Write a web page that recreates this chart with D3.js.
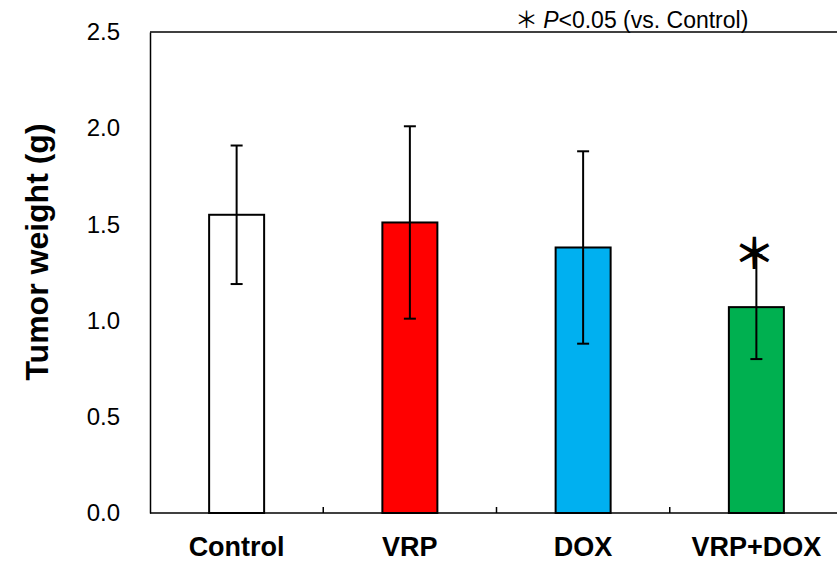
<!doctype html>
<html>
<head>
<meta charset="utf-8">
<title>Tumor weight</title>
<script src="https://cdn.jsdelivr.net/npm/d3@7"></script>
<style>
  body { margin: 0; background: #fff; }
  svg { display: block; }
</style>
</head>
<body>
<svg id="chart" width="837" height="562"></svg>
<script>
// data
var categories = ["Control", "VRP", "DOX", "VRP+DOX"];
var means = [1.55, 1.51, 1.38, 1.07];
var sds = [0.36, 0.50, 0.50, 0.27];
var colors = ["#ffffff", "#ff0000", "#00b0f0", "#00b050"];
var yTicks = [0.0, 0.5, 1.0, 1.5, 2.0, 2.5];
var signif = [false, false, false, true];

var svg = d3.select("#chart");

var xScale = d3.scaleBand().domain(categories).range([150, 843]).padding(0);
var yScale = d3.scaleLinear().domain([0, 2.5]).range([513, 32]);
var barW = 55;

var font = "'Liberation Sans', Arial, sans-serif";

// frame: top line and left axis
svg.append("line")
    .attr("x1", 150).attr("x2", 837)
    .attr("y1", yScale(2.5)).attr("y2", yScale(2.5))
    .attr("stroke", "#000").attr("stroke-width", 1.5);

var yAxis = d3.axisLeft(yScale).tickValues(yTicks).tickSize(0).tickPadding(30)
    .tickFormat(d3.format(".1f"));
var gy = svg.append("g").attr("transform", "translate(150,0)").call(yAxis);
gy.select(".domain").attr("stroke-width", 1.5);
gy.selectAll("text")
    .attr("font-family", font)
    .attr("font-size", 24)
    .attr("fill", "#000");

// bars
svg.selectAll("rect.bar")
    .data(categories)
    .enter()
    .append("rect")
    .attr("class", "bar")
    .attr("x", d => xScale(d) + xScale.bandwidth() / 2 - barW / 2)
    .attr("width", barW)
    .attr("y", (d, i) => yScale(means[i]))
    .attr("height", (d, i) => yScale(0) - yScale(means[i]))
    .attr("fill", (d, i) => colors[i])
    .attr("stroke", "#000")
    .attr("stroke-width", 2);

// error bars
var cx = d => xScale(d) + xScale.bandwidth() / 2;
var eb = svg.selectAll("g.err").data(categories).enter().append("g").attr("class", "err");
eb.append("line")
    .attr("x1", cx).attr("x2", cx)
    .attr("y1", (d, i) => yScale(means[i] - sds[i]))
    .attr("y2", (d, i) => yScale(means[i] + sds[i]))
    .attr("stroke", "#000").attr("stroke-width", 2);
eb.append("line")
    .attr("x1", d => cx(d) - 6).attr("x2", d => cx(d) + 6)
    .attr("y1", (d, i) => yScale(means[i] + sds[i]))
    .attr("y2", (d, i) => yScale(means[i] + sds[i]))
    .attr("stroke", "#000").attr("stroke-width", 2);
eb.append("line")
    .attr("x1", d => cx(d) - 6).attr("x2", d => cx(d) + 6)
    .attr("y1", (d, i) => yScale(means[i] - sds[i]))
    .attr("y2", (d, i) => yScale(means[i] - sds[i]))
    .attr("stroke", "#000").attr("stroke-width", 2);

// x axis with ticks on category boundaries
var gx = svg.append("g").attr("transform", "translate(0," + yScale(0) + ")");
gx.append("line")
    .attr("x1", 150).attr("x2", 837)
    .attr("stroke", "#000").attr("stroke-width", 1.5);
gx.selectAll("line.tick")
    .data(categories.slice(1))
    .enter()
    .append("line")
    .attr("class", "tick")
    .attr("x1", d => xScale(d)).attr("x2", d => xScale(d))
    .attr("y1", 0).attr("y2", -6)
    .attr("stroke", "#000").attr("stroke-width", 1.5);
gx.selectAll("text")
    .data(categories)
    .enter()
    .append("text")
    .attr("x", cx)
    .attr("y", 43)
    .attr("text-anchor", "middle")
    .attr("font-family", font)
    .attr("font-weight", "bold")
    .attr("font-size", 27)
    .text(d => d);

// significance marks
svg.selectAll("text.star")
    .data(categories.filter((d, i) => signif[i]))
    .enter()
    .append("text")
    .attr("class", "star")
    .attr("x", d => cx(d) - 2)
    .attr("y", d => yScale(means[categories.indexOf(d)] + sds[categories.indexOf(d)]) + 14)
    .attr("text-anchor", "middle")
    .attr("font-family", "'Noto Sans CJK JP', sans-serif")
    .attr("font-weight", "bold")
    .attr("font-size", 42)
    .text("＊");

// y axis title
svg.append("text")
    .attr("transform", "translate(48,252) rotate(-90)")
    .attr("text-anchor", "middle")
    .attr("font-family", font)
    .attr("font-weight", "bold")
    .attr("font-size", 32)
    .text("Tumor weight (g)");

// legend note
var note = svg.append("text")
    .attr("x", 515).attr("y", 28)
    .attr("font-family", font)
    .attr("font-size", 23);
note.append("tspan").attr("font-family", "'Noto Sans CJK JP', sans-serif").text("＊ ");
note.append("tspan").attr("font-style", "italic").text("P");
note.append("tspan").text("<0.05 (vs. Control)");
</script>
</body>
</html>
